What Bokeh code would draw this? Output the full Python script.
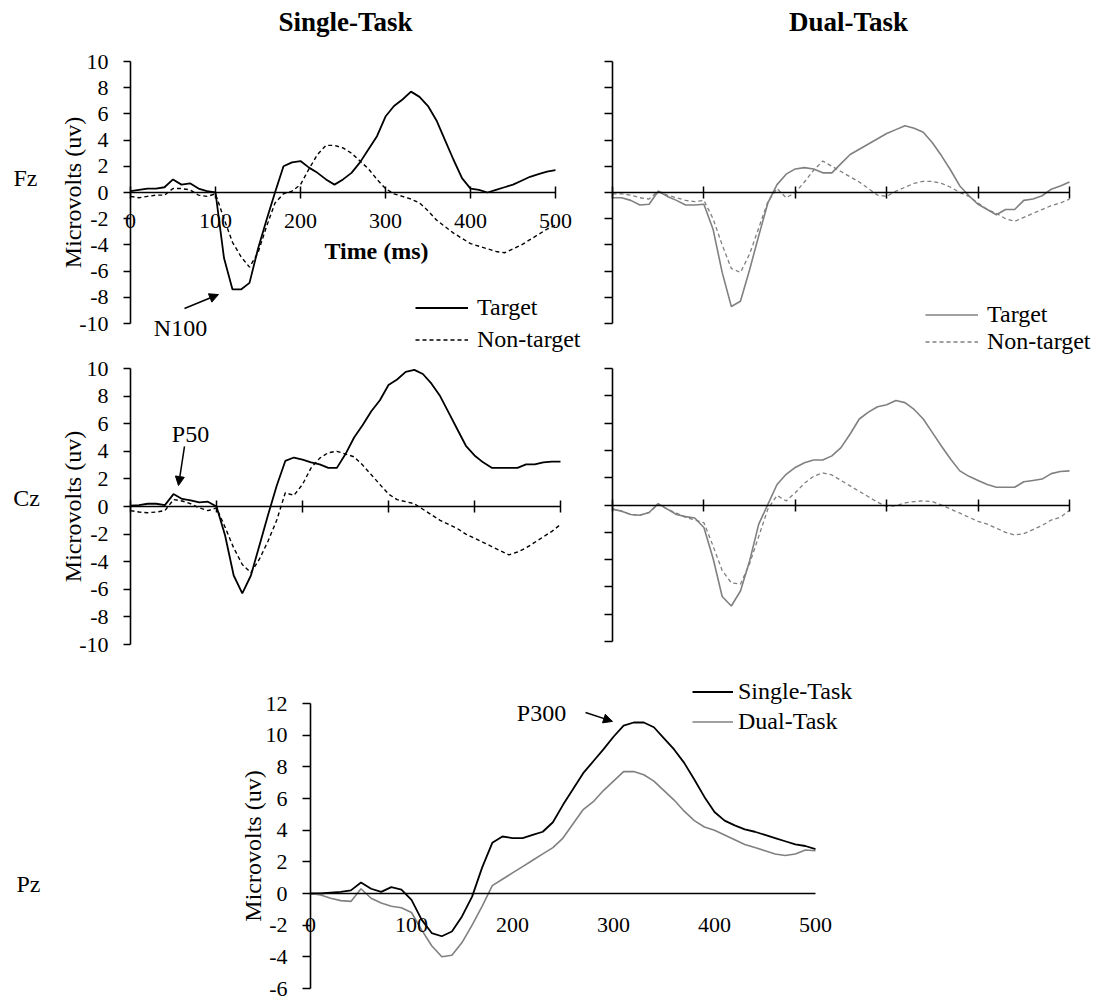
from bokeh.plotting import figure
from bokeh.models import (Range1d, FixedTicker, Legend, LegendItem, Label,
                          Arrow, NormalHead, CustomJSTickFormatter)
from bokeh.layouts import column, row
from bokeh.embed import file_html
from bokeh.resources import INLINE

# ---------------- data (ms, microvolts) ----------------
time_ms = list(range(0, 501, 10))

fz_single_target = [0.1, 0.2, 0.3, 0.3, 0.4, 1.0, 0.6, 0.7, 0.3, 0.1,
                    0.0, -5.0, -7.4, -7.4, -6.9, -4.3, -2.1, 0.0, 2.0, 2.3,
                    2.4, 1.9, 1.5, 1.0, 0.6, 1.0, 1.5, 2.3, 3.3, 4.3,
                    5.8, 6.6, 7.1, 7.7, 7.3, 6.6, 5.5, 4.0, 2.5, 1.1,
                    0.3, 0.2, 0.0, 0.2, 0.4, 0.6, 0.9, 1.2, 1.4, 1.6, 1.7]
fz_single_nontarget = [-0.3, -0.4, -0.3, -0.2, -0.2, 0.3, 0.3, 0.2, -0.2, -0.3,
                       -0.1, -2.0, -3.8, -4.9, -5.7, -4.6, -2.6, -0.8, -0.1, 0.1,
                       0.6, 1.8, 2.9, 3.6, 3.6, 3.4, 3.0, 2.4, 1.8, 1.0,
                       0.3, -0.1, -0.3, -0.5, -0.8, -1.4, -2.1, -2.6, -3.1, -3.5,
                       -3.9, -4.1, -4.3, -4.5, -4.6, -4.3, -4.0, -3.6, -3.2, -2.8, -2.5]
fz_dual_target = [-0.4, -0.4, -0.6, -0.95, -0.9, 0.1, -0.3, -0.6, -0.95, -0.95,
                  -0.9, -2.8, -6.1, -8.7, -8.3, -5.9, -3.3, -0.8, 0.6, 1.4,
                  1.8, 1.9, 1.8, 1.5, 1.5, 2.2, 2.9, 3.3, 3.7, 4.1,
                  4.5, 4.8, 5.1, 4.9, 4.6, 3.8, 2.8, 1.7, 0.5, -0.25,
                  -0.9, -1.3, -1.7, -1.3, -1.3, -0.6, -0.5, -0.25, 0.25, 0.5, 0.8]
fz_dual_nontarget = [-0.1, -0.1, -0.2, -0.4, -0.5, 0.1, -0.2, -0.4, -0.6, -0.7,
                     -0.6, -2.0, -4.0, -5.8, -6.1, -4.7, -2.7, -0.7, 0.3, -0.4,
                     0.0, 0.8, 1.7, 2.4, 2.0, 1.6, 1.2, 0.8, 0.3, -0.2,
                     -0.3, 0.1, 0.4, 0.7, 0.85, 0.85, 0.7, 0.4, 0.0, -0.3,
                     -0.8, -1.3, -1.6, -2.0, -2.2, -1.9, -1.6, -1.3, -1.0, -0.8, -0.5]

cz_single_target = [0.07, 0.1, 0.2, 0.2, 0.1, 0.9, 0.55, 0.45, 0.3, 0.35,
                    0.0, -2.1, -5.0, -6.3, -5.0, -2.8, -0.6, 1.5, 3.3, 3.55,
                    3.4, 3.2, 3.05, 2.8, 2.8, 3.8, 5.0, 5.9, 6.9, 7.7,
                    8.8, 9.2, 9.75, 9.9, 9.6, 8.9, 8.0, 6.8, 5.6, 4.4,
                    3.7, 3.2, 2.8, 2.8, 2.8, 2.8, 3.05, 3.05, 3.2, 3.25, 3.25]
cz_single_nontarget = [-0.3, -0.4, -0.45, -0.4, -0.3, 0.5, 0.4, 0.2, -0.1, -0.3,
                       -0.1, -1.5, -3.0, -4.2, -4.8, -3.8, -2.5, -1.0, 1.0, 0.8,
                       1.6, 2.8, 3.5, 3.9, 4.0, 3.8, 3.6, 3.0, 2.3, 1.6,
                       0.9, 0.5, 0.35, 0.2, -0.2, -0.6, -1.0, -1.3, -1.6, -2.0,
                       -2.3, -2.6, -2.9, -3.2, -3.5, -3.3, -3.0, -2.6, -2.2, -1.8, -1.3]
cz_dual_target = [-0.3, -0.45, -0.7, -0.75, -0.55, 0.1, -0.3, -0.7, -0.85, -0.95,
                  -1.65, -3.9, -6.7, -7.4, -6.3, -4.1, -1.4, 0.05, 1.5, 2.25,
                  2.75, 3.1, 3.3, 3.3, 3.6, 4.2, 5.2, 6.3, 6.8, 7.2,
                  7.35, 7.65, 7.5, 7.0, 6.3, 5.3, 4.3, 3.35, 2.5, 2.1,
                  1.8, 1.5, 1.3, 1.3, 1.3, 1.7, 1.8, 1.9, 2.3, 2.45, 2.5]
cz_dual_nontarget = [-0.3, -0.45, -0.7, -0.75, -0.55, 0.05, -0.3, -0.6, -0.9, -1.1,
                     -1.3, -3.0, -4.8, -5.7, -5.8, -4.3, -2.3, -0.3, 0.7, 0.3,
                     0.9, 1.6, 2.1, 2.35, 2.2, 1.8, 1.4, 1.0, 0.6, 0.2,
                     -0.1, -0.05, 0.15, 0.25, 0.3, 0.25, 0.0, -0.3, -0.6, -0.9,
                     -1.2, -1.4, -1.7, -2.0, -2.2, -2.1, -1.8, -1.5, -1.1, -0.9, -0.4]

pz_single = [0.0, 0.0, 0.05, 0.1, 0.2, 0.7, 0.3, 0.1, 0.4, 0.25,
             -0.4, -1.65, -2.5, -2.7, -2.4, -1.45, -0.2, 1.65, 3.2, 3.6,
             3.5, 3.5, 3.7, 3.9, 4.5, 5.6, 6.6, 7.6, 8.35, 9.1,
             9.9, 10.6, 10.8, 10.8, 10.5, 9.8, 9.1, 8.25, 7.2, 6.1,
             5.15, 4.6, 4.3, 4.05, 3.9, 3.7, 3.5, 3.3, 3.1, 3.0, 2.8]
pz_dual = [0.0, -0.1, -0.3, -0.45, -0.5, 0.3, -0.3, -0.6, -0.8, -0.9,
           -1.2, -2.3, -3.3, -4.0, -3.9, -3.1, -2.0, -0.8, 0.5, 0.9,
           1.3, 1.7, 2.1, 2.5, 2.9, 3.5, 4.4, 5.3, 5.8, 6.5,
           7.1, 7.7, 7.7, 7.5, 7.1, 6.5, 5.9, 5.2, 4.6, 4.2,
           4.0, 3.7, 3.4, 3.1, 2.9, 2.7, 2.5, 2.4, 2.5, 2.75, 2.7]

x_ticks = [0, 100, 200, 300, 400, 500]
y_ticks_fc = [-10, -8, -6, -4, -2, 0, 2, 4, 6, 8, 10]
y_ticks_p = [-6, -4, -2, 0, 2, 4, 6, 8, 10, 12]

# ---------------- styles ----------------
FONT = "Liberation Serif"
BLACK = "#000000"
GRAY = "#808080"
DASH = "4 3"
PLAIN = CustomJSTickFormatter(code="return tick.toString();")


def base_fig(W, H, px_x0, px_x1, px_ytop, px_ybot, y0, y1, yticks,
             show_ylabels, xlabels, ytick_out, xtick, ylab_standoff=15,
             xlab_standoff=15, axis_label=None, axis_label_standoff=-10):
    """Frame covers the whole canvas; the plotting area (0..500 ms, y0..y1)
    sits at the given pixel box, axes are fixed at x=0 and y=0."""
    sx = 500.0 / (px_x1 - px_x0)
    sy = (y1 - y0) / float(px_ybot - px_ytop)
    xr = Range1d(-px_x0 * sx, (W - px_x0) * sx)
    yr = Range1d(y1 - (H - px_ytop) * sy, y1 + px_ytop * sy)
    p = figure(width=W, height=H, x_range=xr, y_range=yr,
               output_backend="svg", toolbar_location=None, min_border=0,
               min_border_left=0, min_border_right=0, min_border_top=0,
               min_border_bottom=0)
    p.grid.visible = False
    p.outline_line_color = None
    p.background_fill_color = "white"
    p.border_fill_color = "white"

    xa = p.xaxis[0]
    xa.fixed_location = 0
    xa.bounds = (0, 500)
    xa.ticker = FixedTicker(ticks=x_ticks)
    xa.formatter = PLAIN
    xa.major_tick_in = xtick
    xa.major_tick_out = xtick
    xa.minor_tick_line_color = None
    xa.axis_line_width = 1.6
    xa.major_tick_line_width = 1.5
    xa.axis_line_color = BLACK
    xa.major_tick_line_color = BLACK if xtick > 0 else None
    xa.major_label_text_font = FONT
    xa.major_label_text_font_size = "22px"
    xa.major_label_text_color = BLACK if xlabels else None
    xa.major_label_standoff = xlab_standoff

    ya = p.yaxis[0]
    ya.fixed_location = 0
    ya.bounds = (y0, y1)
    ya.ticker = FixedTicker(ticks=yticks)
    ya.formatter = PLAIN
    ya.major_tick_in = 0
    ya.major_tick_out = ytick_out
    ya.minor_tick_line_color = None
    ya.axis_line_width = 1.6
    ya.major_tick_line_width = 1.5
    ya.axis_line_color = BLACK
    ya.major_tick_line_color = BLACK
    ya.major_label_text_font = FONT
    ya.major_label_text_font_size = "22px"
    ya.major_label_text_color = BLACK if show_ylabels else None
    ya.major_label_standoff = ylab_standoff
    if axis_label:
        ya.axis_label = axis_label
        ya.axis_label_text_font = FONT
        ya.axis_label_text_font_size = "24px"
        ya.axis_label_text_font_style = "normal"
        ya.axis_label_text_color = BLACK
        ya.axis_label_standoff = axis_label_standoff
    return p


def add_text(p, x, y, text, size="24px", bold=False):
    p.add_layout(Label(x=x, y=y, text=text, text_font=FONT,
                       text_font_size=size,
                       text_font_style="bold" if bold else "normal",
                       text_align="center", text_baseline="middle",
                       text_color=BLACK))


def add_arrow(p, xs, ys, xe, ye):
    p.add_layout(Arrow(end=NormalHead(size=9, fill_color=BLACK, line_color=BLACK),
                       x_start=xs, y_start=ys, x_end=xe, y_end=ye,
                       line_color=BLACK, line_width=1.5))


def add_legend(p, items, loc, gw, gh, spacing, standoff):
    lg = Legend(items=[LegendItem(label=l, renderers=[r]) for l, r in items],
                location=loc, orientation="vertical", glyph_width=gw,
                glyph_height=gh, label_height=10, label_standoff=standoff,
                padding=0, spacing=spacing, margin=0, border_line_color=None,
                background_fill_alpha=0, label_text_font=FONT,
                label_text_font_size="24px", label_text_color=BLACK)
    p.add_layout(lg)


# ---------------- Fz single task ----------------
pA = base_fig(590, 355, 130, 555, 61, 323, -10, 10, y_ticks_fc, True, True,
              7, 6, axis_label="Microvolts (uv)")
rA1 = pA.line(time_ms, fz_single_target, line_color=BLACK, line_width=1.8)
rA2 = pA.line(time_ms, fz_single_nontarget, line_color=BLACK, line_width=1.4,
              line_dash=DASH)
add_legend(pA, [("Target", rA1), ("Non-target", rA2)], (415, 1), 53, 29, 3, 9)
add_text(pA, 252.9, 12.98, "Single-Task", size="27px", bold=True)
add_text(pA, -123.5, 1.1, "Fz")
add_text(pA, 289.4, -4.43, "Time (ms)", bold=True)
add_text(pA, 58.8, -10.38, "N100")
add_arrow(pA, 63.5, -8.85, 103.5, -7.79)

# ---------------- Fz dual task ----------------
pB = base_fig(508, 355, 22, 479, 61, 323, -10, 10, y_ticks_fc, False, False,
              8, 6)
rB1 = pB.line(time_ms, fz_dual_target, line_color=GRAY, line_width=1.6)
rB2 = pB.line(time_ms, fz_dual_nontarget, line_color=GRAY, line_width=1.3,
              line_dash=DASH)
add_legend(pB, [("Target", rB1), ("Non-target", rB2)], (335, 0), 53, 25, 0, 9)
add_text(pB, 258.2, 12.98, "Dual-Task", size="27px", bold=True)

# ---------------- Cz single task ----------------
pC = base_fig(590, 310, 130, 560, 13, 289, -10, 10, y_ticks_fc, True, False,
              7, 6, axis_label="Microvolts (uv)")
pC.line(time_ms, cz_single_target, line_color=BLACK, line_width=1.8)
pC.line(time_ms, cz_single_nontarget, line_color=BLACK, line_width=1.4,
        line_dash=DASH)
add_text(pC, -120.9, 0.6, "Cz")
add_text(pC, 69.8, 5.22, "P50")
add_arrow(pC, 62.8, 4.35, 55.8, 1.52)

# ---------------- Cz dual task ----------------
pD = base_fig(508, 310, 22, 479, 13, 286, -10, 10, y_ticks_fc, False, False,
              8, 6)
pD.line(time_ms, cz_dual_target, line_color=GRAY, line_width=1.6)
pD.line(time_ms, cz_dual_nontarget, line_color=GRAY, line_width=1.3,
        line_dash=DASH)

# ---------------- Pz ----------------
pE = base_fig(1098, 337, 310, 815, 38, 323, -6, 12, y_ticks_p, True, True,
              8, 0, ylab_standoff=15, xlab_standoff=24,
              axis_label="Microvolts (uv)", axis_label_standoff=-3)
rE1 = pE.line(time_ms, pz_single, line_color=BLACK, line_width=1.8)
rE2 = pE.line(time_ms, pz_dual, line_color=GRAY, line_width=1.6)
add_legend(pE, [("Single-Task", rE1), ("Dual-Task", rE2)], (692, 267), 41, 27, 3, 5)
add_text(pE, -279.2, 0.63, "Pz")
add_text(pE, 228.7, 11.37, "P300")
add_arrow(pE, 272.3, 11.43, 299.0, 10.87)

layout = column(row(pA, pB), row(pC, pD), pE)
open("out.html", "w").write(file_html(layout, INLINE))
